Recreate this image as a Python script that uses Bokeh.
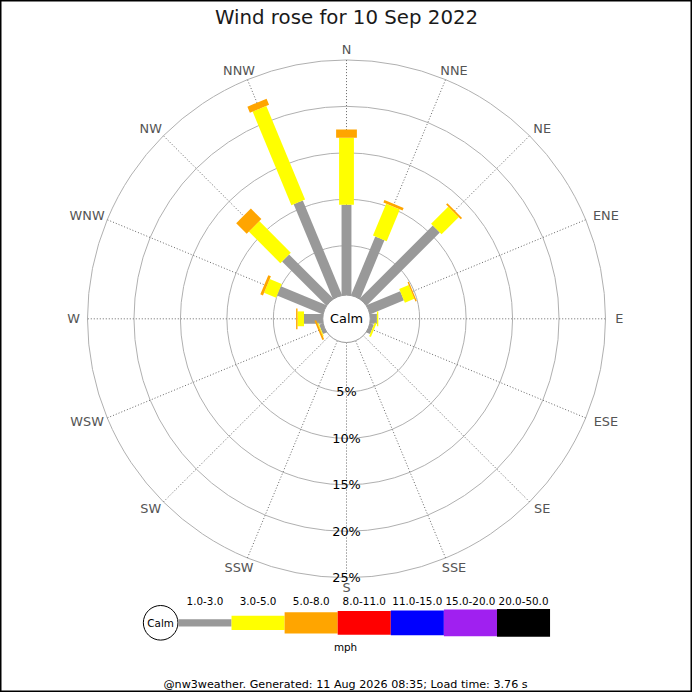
import math
from bokeh.plotting import figure
from bokeh.models import Range1d, ColumnDataSource
from bokeh.embed import file_html
from bokeh.resources import INLINE
from bokeh.core.properties import value

# ---------------- data ----------------
title_text = "Wind rose for 10 Sep 2022"
footer_text = "@nw3weather. Generated: 11 Aug 2026 08:35; Load time: 3.76 s"
units_text = "mph"
calm_text = "Calm"

directions = ["N", "NNE", "NE", "ENE", "E", "ESE", "SE", "SSE",
              "S", "SSW", "SW", "WSW", "W", "WNW", "NW", "NNW"]
speed_bands = ["1.0-3.0", "3.0-5.0", "5.0-8.0", "8.0-11.0",
               "11.0-15.0", "15.0-20.0", "20.0-50.0"]
band_colors = ["#999999", "#ffff00", "#ffa500", "#ff0000",
               "#0000ff", "#a020f0", "#000000"]

# percentage of time per direction for each speed band (mph)
pct_1_3 = [9.4, 6.5, 10.8, 3.6, 0.4, 0.1, 0, 0, 0, 0, 0, 0.1, 1.7, 5.0, 6.4, 10.7]
pct_3_5 = [7.2, 3.7, 2.6, 1.1, 0.15, 0.2, 0, 0, 0, 0, 0, 0.1, 0.7, 1.4, 4.8, 10.9]
pct_5_8 = [0.9, 0.3, 0.2, 0.15, 0, 0, 0, 0, 0, 0, 0, 0.2, 0.15, 0.3, 1.6, 0.7]
band_values = [pct_1_3, pct_3_5, pct_5_8]

ring_pcts = [5, 10, 15, 20, 25]
ring_labels = ["5%", "10%", "15%", "20%", "25%"]

# ---------------- geometry / style ----------------
SIZE = 692
S = SIZE / 700.0          # screen px per layout unit


def fs(px):
    return value("%.2fpx" % (px * S))


FONT = value("DejaVu Sans")
CALM_R = 24.0
R0 = 27.0
PX_PER_PCT = 9.4
BAR_WIDTHS = [10, 15, 21, 23, 25, 27, 29]
LEGEND_HEIGHTS = [7.3, 14.5, 21.5, 24, 25, 27, 28]


def rad(p):
    return R0 + PX_PER_PCT * p


p = figure(width=SIZE, height=SIZE,
           x_range=Range1d(-350, 350), y_range=Range1d(-378, 322),
           toolbar_location=None, output_backend="svg", min_border=0)
p.axis.visible = False
p.grid.visible = False
p.outline_line_color = "black"
p.outline_line_width = 2
p.background_fill_color = "white"
p.border_fill_color = "white"

# rings
outer = rad(ring_pcts[-1])
p.circle(x=[0] * len(ring_pcts), y=[0] * len(ring_pcts),
         radius=[rad(v) for v in ring_pcts],
         fill_color=None, line_color="#b0b0b0", line_width=1)

# direction spokes
angles = [i * 2 * math.pi / len(directions) for i in range(len(directions))]
p.segment(x0=[CALM_R * math.sin(a) for a in angles],
          y0=[CALM_R * math.cos(a) for a in angles],
          x1=[outer * math.sin(a) for a in angles],
          y1=[outer * math.cos(a) for a in angles],
          line_color="#666666", line_width=1, line_dash="1 2")

# stacked bars
cum = [0.0] * len(directions)
for b, vals in enumerate(band_values):
    x0, y0, x1, y1 = [], [], [], []
    for i, v in enumerate(vals):
        start = cum[i]
        end = start + v
        cum[i] = end
        if v <= 0:
            continue
        a = angles[i]
        r_s = 0.0 if b == 0 else rad(start)
        r_e = rad(end)
        x0.append(r_s * math.sin(a)); y0.append(r_s * math.cos(a))
        x1.append(r_e * math.sin(a)); y1.append(r_e * math.cos(a))
    p.segment(x0=x0, y0=y0, x1=x1, y1=y1, line_color=band_colors[b],
              line_width=BAR_WIDTHS[b] * S, line_cap="butt")

# calm circle
p.circle(x=[0], y=[0], radius=CALM_R, fill_color="white",
         line_color="#999999", line_width=1)
p.text(x=[0], y=[0], text=[calm_text], text_font=FONT,
       text_font_size=fs(13), text_align="center",
       text_baseline="middle", text_color="black")

# direction labels
R_LAB = 272
lx, ly = [], []
for d, a in zip(directions, angles):
    lx.append(R_LAB * math.sin(a) + math.sin(a) * len(d) * 4)
    ly.append(R_LAB * math.cos(a))
p.text(x=lx, y=ly, text=directions, text_font=FONT,
       text_font_size=fs(13), text_align="center",
       text_baseline="middle", text_color="#555555")

# ring labels
p.text(x=[0] * len(ring_pcts), y=[-rad(v) for v in ring_pcts], text=ring_labels,
       text_font=FONT, text_font_size=fs(13), text_align="center",
       text_baseline="middle", text_color="black")

# title
p.text(x=[0], y=[305], text=[title_text], text_font=FONT,
       text_font_size=fs(20), text_align="center",
       text_baseline="middle", text_color="#1a1a1a")

# legend
LEG_Y = -307.5
LEG_X0 = -170.0
LEG_W = 53.7
p.circle(x=[-188], y=[LEG_Y], radius=17.5, fill_color="white",
         line_color="black", line_width=1)
p.text(x=[-188], y=[LEG_Y], text=[calm_text], text_font=FONT,
       text_font_size=fs(10.5), text_align="center",
       text_baseline="middle", text_color="black")
lefts = [LEG_X0 + i * LEG_W for i in range(len(speed_bands))]
leg = ColumnDataSource(dict(
    left=lefts, right=[l + LEG_W for l in lefts],
    top=[LEG_Y + h / 2 for h in LEGEND_HEIGHTS],
    bottom=[LEG_Y - h / 2 for h in LEGEND_HEIGHTS],
    color=band_colors, label=speed_bands,
    cx=[l + LEG_W / 2 for l in lefts], ty=[-285] * len(speed_bands)))
p.quad(left="left", right="right", top="top", bottom="bottom",
       fill_color="color", line_color=None, source=leg)
p.text(x="cx", y="ty", text="label", source=leg, text_font=FONT,
       text_font_size=fs(10.5), text_align="center",
       text_baseline="middle", text_color="black")
p.text(x=[-1], y=[-331.5], text=[units_text], text_font=FONT,
       text_font_size=fs(10.5), text_align="center",
       text_baseline="middle", text_color="black")

# footer
p.text(x=[-1], y=[-370], text=[footer_text], text_font=FONT,
       text_font_size=fs(11.3), text_align="center",
       text_baseline="middle", text_color="black")

open("out.html", "w").write(file_html(p, INLINE))
